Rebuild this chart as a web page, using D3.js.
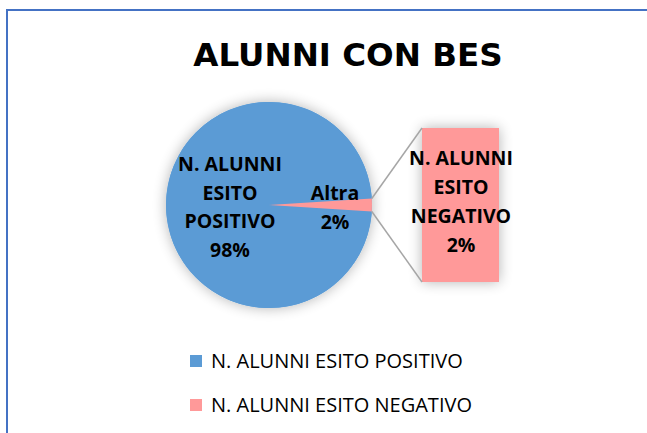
<!DOCTYPE html>
<html>
<head>
<meta charset="utf-8">
<script src="https://cdn.jsdelivr.net/npm/d3@7"></script>
<style>
  html, body { margin: 0; padding: 0; background: #fff; }
  svg { display: block; font-family: 'Open Sans', Lato, sans-serif; }
</style>
</head>
<body>
<svg id="chart" width="647" height="433"></svg>
<script>
const categories = ['N. ALUNNI ESITO POSITIVO', 'N. ALUNNI ESITO NEGATIVO']
const values = [98, 2]
const colors = ['#5B9BD5', '#FF9999']
const pieLabel = ['N. ALUNNI', 'ESITO', 'POSITIVO', '98%']
const otherLabel = ['Altra', '2%']
const barLabel = ['N. ALUNNI', 'ESITO', 'NEGATIVO', '2%']

const W = 647, H = 433
const svg = d3.select('#chart')

const defs = svg.append('defs')
const f = defs.append('filter').attr('id', 'glow')
  .attr('x', '-30%').attr('y', '-30%').attr('width', '160%').attr('height', '160%')
f.append('feGaussianBlur').attr('in', 'SourceAlpha').attr('stdDeviation', 7).attr('result', 'b')
f.append('feComponentTransfer').attr('in', 'b').attr('result', 's')
  .append('feFuncA').attr('type', 'linear').attr('slope', 0.3)
const fm = f.append('feMerge')
fm.append('feMergeNode').attr('in', 's')
fm.append('feMergeNode').attr('in', 'SourceGraphic')

// frame
svg.append('rect').attr('x', 7).attr('y', 10).attr('width', W + 10).attr('height', H + 10)
  .attr('fill', '#fff').attr('stroke', '#4472C4').attr('stroke-width', 2)

// title
svg.append('text').attr('x', 348).attr('y', 66).attr('text-anchor', 'middle')
  .attr('font-family', "'DejaVu Sans', Verdana, sans-serif")
  .attr('font-size', 32.5).attr('font-weight', 'bold').attr('fill', '#000')
  .text('ALUNNI CON BES')

// pie
const cx = 269, cy = 205, R = 103
const total = d3.sum(values)
const half = values[1] / total * Math.PI
const a0 = Math.PI / 2 + half
const pie = d3.pie().sort(null).startAngle(a0).endAngle(a0 + 2 * Math.PI)
const arcs = pie(values)
const arc = d3.arc().innerRadius(0).outerRadius(R)

const gPie = svg.append('g').attr('transform', `translate(${cx},${cy})`)
gPie.append('circle').attr('r', R).attr('fill', colors[0]).attr('filter', 'url(#glow)')
gPie.selectAll('path').data(arcs).join('path')
  .attr('d', arc).attr('fill', (d, i) => colors[i])

// bar of pie
const bx = d3.scaleBand().domain([categories[1]]).range([422, 499]).padding(0)
const by = d3.scaleLinear().domain([0, values[1]]).range([282, 128])
svg.append('g').selectAll('rect').data([values[1]]).join('rect')
  .attr('x', bx(categories[1])).attr('width', bx.bandwidth())
  .attr('y', d => by(d)).attr('height', d => by(0) - by(d))
  .attr('fill', colors[1]).attr('filter', 'url(#glow)')

// connectors from the small slice edges to the bar corners
const small = arcs[1]
const pt = a => [cx + R * Math.sin(a), cy - R * Math.cos(a)]
const ends = [pt(small.startAngle), pt(small.endAngle)].sort((p, q) => p[1] - q[1])
svg.append('line').attr('x1', ends[0][0]).attr('y1', ends[0][1])
  .attr('x2', bx(categories[1])).attr('y2', by(values[1]))
  .attr('stroke', '#A6A6A6').attr('stroke-width', 1.5)
svg.append('line').attr('x1', ends[1][0]).attr('y1', ends[1][1])
  .attr('x2', bx(categories[1])).attr('y2', by(0))
  .attr('stroke', '#A6A6A6').attr('stroke-width', 1.5)

function multiline(x, y0, lines, step) {
  const t = svg.append('text').attr('text-anchor', 'middle')
    .attr('font-size', 19.5).attr('font-weight', 'bold').attr('fill', '#000')
  lines.forEach((s, i) => t.append('tspan').attr('x', x).attr('y', y0 + i * step).text(s))
}
multiline(230, 171, pieLabel, 28.7)
multiline(335, 200, otherLabel, 28.5)
multiline(461, 165, barLabel, 29)

// legend
const lg = svg.append('g')
categories.forEach((c, i) => {
  const y = 368 + i * 44
  lg.append('rect').attr('x', 190).attr('y', y - 13).attr('width', 12).attr('height', 12).attr('fill', colors[i])
  lg.append('text').attr('x', 211).attr('y', y).attr('font-size', 20).attr('fill', '#000').text(c)
})
</script>
</body>
</html>
